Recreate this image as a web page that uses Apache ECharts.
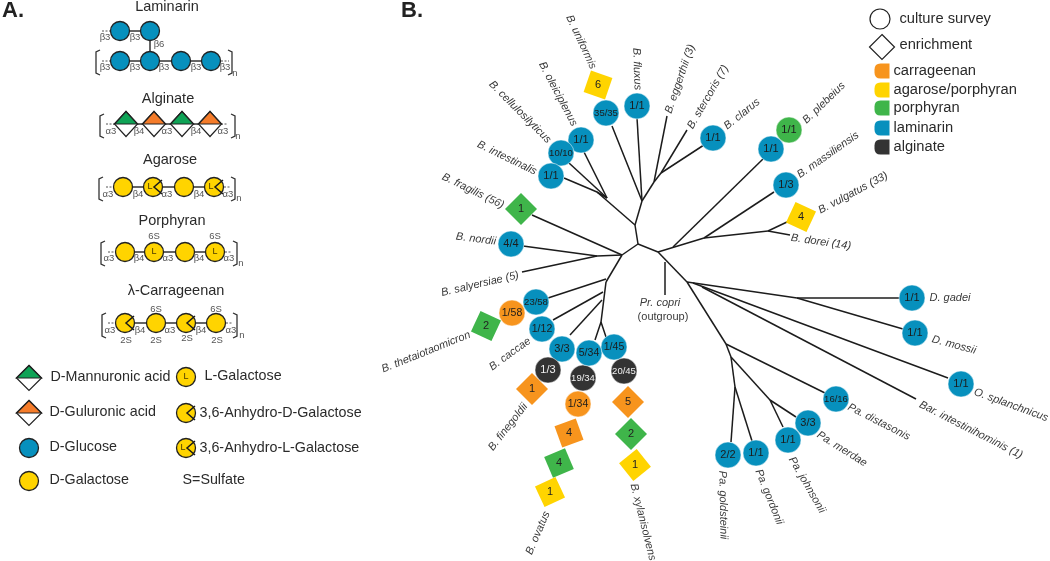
<!DOCTYPE html>
<html>
<head>
<meta charset="utf-8">
<style>
html, body { margin: 0; padding: 0; background: #fff; }
#chart { width: 1050px; height: 561px; }
</style>
<script src="https://cdn.jsdelivr.net/npm/echarts@6/dist/echarts.min.js"></script>
</head>
<body>
<div id="chart"></div>
<script>
const colors = {
  carrageenan: '#f7941d',
  agarose: '#ffd400',
  porphyran: '#3fb54a',
  laminarin: '#0790bd',
  alginate: '#333333',
  mannuronic: '#0fa356',
  guluronic: '#f57c2a'
}

// [x1, y1, x2, y2]
const branches = [
  [638, 244, 622, 255], [638, 244, 658, 252], [638, 244, 635, 225], [635, 225, 642, 201],
  [635, 225, 597, 192], [597, 192, 564, 178], [597, 192, 607, 198], [607, 198, 569, 163],
  [607, 198, 584, 152], [642, 201, 612, 126], [642, 201, 637, 118], [642, 201, 654, 182],
  [654, 182, 667, 116], [654, 182, 661, 173], [661, 173, 687, 130], [661, 173, 707, 143],
  [622, 255, 532, 215], [622, 255, 597, 256], [597, 256, 523, 246], [597, 256, 522, 272],
  [622, 255, 606, 282], [606, 282, 601, 322], [606, 279, 548, 298], [603, 292, 553, 320],
  [602, 300, 570, 335], [601, 322, 595, 340], [601, 322, 606, 337],
  [658, 252, 704, 238], [704, 238, 768, 231], [768, 231, 787, 222], [768, 231, 790, 235],
  [704, 238, 774, 192], [673, 247, 763, 159],
  [658, 252, 687, 282], [665, 262, 665, 295], [687, 282, 797, 298], [797, 298, 900, 298],
  [797, 298, 903, 329], [693, 283, 948, 378], [702, 287, 916, 399], [687, 282, 726, 344],
  [726, 344, 825, 393], [726, 344, 731, 357], [731, 357, 735, 387], [735, 387, 731, 442],
  [735, 387, 752, 441], [731, 357, 770, 400], [770, 400, 796, 417], [770, 400, 783, 427]
]

// [x, y, count, substrate, tilt]
const enrichment = [
  [598, 85, '6', 'agarose', 26], [521, 209, '1', 'porphyran', 0], [801, 217, '4', 'agarose', 20],
  [486, 326, '2', 'porphyran', 20], [532, 389, '1', 'carrageenan', 0], [569, 433, '4', 'carrageenan', -25],
  [559, 463, '4', 'porphyran', -22], [550, 492, '1', 'agarose', -20], [628, 402, '5', 'carrageenan', 0],
  [631, 434, '2', 'porphyran', 0], [635, 465, '1', 'agarose', -6]
]

// [x, y, fraction, substrate]
const survey = [
  [606, 113, '35/35', 'laminarin'], [637, 106, '1/1', 'laminarin'], [581, 140, '1/1', 'laminarin'],
  [561, 153, '10/10', 'laminarin'], [551, 176, '1/1', 'laminarin'], [511, 244, '4/4', 'laminarin'],
  [713, 138, '1/1', 'laminarin'], [789, 130, '1/1', 'porphyran'], [771, 149, '1/1', 'laminarin'],
  [786, 185, '1/3', 'laminarin'], [512, 313, '1/58', 'carrageenan'], [536, 302, '23/58', 'laminarin'],
  [542, 329, '1/12', 'laminarin'], [562, 349, '3/3', 'laminarin'], [548, 370, '1/3', 'alginate'],
  [583, 378, '19/34', 'alginate'], [589, 353, '5/34', 'laminarin'], [578, 404, '1/34', 'carrageenan'],
  [624, 371, '20/45', 'alginate'], [614, 347, '1/45', 'laminarin'], [912, 298, '1/1', 'laminarin'],
  [915, 333, '1/1', 'laminarin'], [961, 384, '1/1', 'laminarin'], [836, 399, '16/16', 'laminarin'],
  [808, 423, '3/3', 'laminarin'], [788, 440, '1/1', 'laminarin'], [756, 453, '1/1', 'laminarin'],
  [728, 455, '2/2', 'laminarin']
]

// [x, y, name, angle]
const taxa = [
  [581, 42, 'B. uniformis', -65], [637, 69, 'B. fluxus', -88], [680, 79, 'B. eggerthii (3)', 71],
  [708, 97, 'B. stercoris (7)', 60], [742, 114, 'B. clarus', 39], [824, 103, 'B. plebeius', 44],
  [828, 155, 'B. massiliensis', 35], [853, 193, 'B. vulgatus (33)', 28], [821, 242, 'B. dorei (14)', -8],
  [558, 94, 'B. oleiciplenus', -62], [520, 112, 'B. cellulosilyticus', -45], [507, 158, 'B. intestinalis', -26],
  [473, 191, 'B. fragilis (56)', -26], [476, 239, 'B. nordii', -7], [480, 284, 'B. salyersiae (5)', 13],
  [426, 352, 'B. thetaiotaomicron', 22], [510, 354, 'B. caccae', 36], [508, 427, 'B. finegoldii', 52],
  [538, 533, 'B. ovatus', 67], [643, 522, 'B. xylanisolvens', -76], [660, 303, 'Pr. copri', 0],
  [950, 298, 'D. gadei', 0], [954, 345, 'D. mossii', -15], [1011, 405, 'O. splanchnicus', -20],
  [971, 430, 'Bar. intestinihominis (1)', -27], [879, 422, 'Pa. distasonis', -27], [842, 449, 'Pa. merdae', -32],
  [807, 485, 'Pa. johnsonii', -60], [769, 497, 'Pa. gordonii', -68], [723, 505, 'Pa. goldsteinii', -89]
]

// polymer drawings: backbone segments, sugars and their annotations
const backbones = [
  [120, 31, 150, 31], [150, 31, 150, 61], [120, 61, 211, 61],
  [126, 124, 210, 124], [123, 187, 214, 187], [125, 252, 215, 252], [125, 323, 216, 323]
]
const stubs = [
  [102, 31, 110, 31], [102, 61, 110, 61], [221, 61, 229, 61], [106, 124, 114, 124], [221, 124, 228, 124],
  [106, 187, 113, 187], [224, 187, 231, 187], [108, 252, 115, 252], [225, 252, 232, 252],
  [108, 323, 115, 323], [226, 323, 233, 323]
]
const glucose = [[120, 31], [150, 31], [120, 61], [150, 61], [181, 61], [211, 61], [29, 448]]
const galactose = [
  [123, 187], [153, 187], [184, 187], [214, 187], [125, 252], [154, 252], [185, 252], [215, 252],
  [125, 323], [156, 323], [186, 323], [216, 323], [29, 481], [186, 377], [186, 413], [186, 448]
]
const lGalactose = [[154, 252], [215, 252], [186, 377]]
const anhydroL = [[153, 187], [214, 187], [186, 448]]
const anhydroD = [[125, 323], [186, 323], [186, 413]]
// [x, y, top colour, width, height]
const uronic = [
  [126, 124, 'mannuronic', 23, 25], [154, 124, 'guluronic', 23, 25], [182, 124, 'mannuronic', 23, 25],
  [210, 124, 'guluronic', 23, 25], [29, 378, 'mannuronic', 25, 25], [29, 413, 'guluronic', 25, 25]
]
// [x left, x right, y top, y bottom]
const brackets = [
  [96, 232, 50, 75], [100, 235, 114, 138], [99, 235, 177, 201], [101, 237, 241, 266], [102, 237, 313, 338]
]
const linkages = [
  [105, 37, 'β3'], [135, 37, 'β3'], [159, 44, 'β6'], [105, 67, 'β3'], [135, 67, 'β3'], [164, 67, 'β3'],
  [196, 67, 'β3'], [225, 67, 'β3'],
  [111, 131, 'α3'], [139, 131, 'β4'], [167, 131, 'α3'], [196, 131, 'β4'], [223, 131, 'α3'],
  [108, 194, 'α3'], [138, 194, 'β4'], [167, 194, 'α3'], [199, 194, 'β4'], [228, 194, 'α3'],
  [109, 258, 'α3'], [139, 258, 'β4'], [168, 258, 'α3'], [199, 258, 'β4'], [229, 258, 'α3'],
  [110, 330, 'α3'], [140, 330, 'β4'], [170, 330, 'α3'], [201, 330, 'β4'], [231, 330, 'α3'],
  [154, 236, '6S'], [215, 236, '6S'], [156, 309, '6S'], [216, 309, '6S'],
  [126, 340, '2S'], [156, 340, '2S'], [187, 338, '2S'], [217, 340, '2S'],
  [235, 73, 'n'], [238, 136, 'n'], [239, 198, 'n'], [241, 263, 'n'], [242, 335, 'n']
]
const polymerTitles = [
  [167, 7, 'Laminarin'], [168, 99, 'Alginate'], [170, 160, 'Agarose'], [172, 221, 'Porphyran'], [176, 291, 'λ-Carrageenan']
]
const sugarNames = [
  [50, 377, 'D-Mannuronic acid'], [49, 412, 'D-Guluronic acid'], [49, 447, 'D-Glucose'], [49, 480, 'D-Galactose'],
  [204, 376, 'L-Galactose'], [199, 413, '3,6-Anhydro-D-Galactose'], [199, 448, '3,6-Anhydro-L-Galactose'], [182, 480, 'S=Sulfate']
]
const substrateKey = [
  [882, 71, 'carrageenan', 'carrageenan'], [882, 90, 'agarose', 'agarose/porphyran'], [882, 108, 'porphyran', 'porphyran'],
  [882, 128, 'laminarin', 'laminarin'], [882, 147, 'alginate', 'alginate']
]
const markKey = [[899, 19, 'culture survey'], [899, 45, 'enrichment']]
const panelLetters = [[13, 11, 'A.'], [412, 11, 'B.']]

const FONT = '"Liberation Sans", Arial, sans-serif'
const INK = '#222222'

const segs = rows => rows.map(r => ({ coords: [[r[0], r[1]], [r[2], r[3]]] }))

const lineSeries = (data, z, extra) => ({
  type: 'lines',
  coordinateSystem: 'cartesian2d',
  polyline: true,
  silent: true,
  z: z,
  data: data,
  lineStyle: Object.assign({ color: INK, width: 1.4, opacity: 1 }, extra)
})

// a text sits on an invisible point so it still goes through the axes
const textSeries = (rows, label, z) => ({
  type: 'scatter',
  silent: true,
  z: z || 6,
  symbolSize: 1,
  itemStyle: { color: 'rgba(0,0,0,0)', opacity: 1 },
  data: rows.map(r => ({
    value: [r[0], r[1]],
    label: { formatter: r[2], rotate: r[3] || 0 }
  })),
  label: Object.assign({
    show: true,
    position: 'inside',
    fontFamily: FONT,
    color: '#333',
    fontSize: 14
  }, label)
})

const leftText = { position: 'right', distance: 0, align: 'left' }

const bracketLines = []
brackets.forEach(b => {
  bracketLines.push({ coords: [[b[0] + 4, b[2]], [b[0], b[2] + 2], [b[0], b[3] - 2], [b[0] + 4, b[3]]] })
  bracketLines.push({ coords: [[b[1] - 4, b[2]], [b[1], b[2] + 2], [b[1], b[3] - 2], [b[1] - 4, b[3]]] })
})

const chevrons = anhydroD.concat(anhydroL).map(c => ({
  coords: [[c[0] + 9, c[1] - 7], [c[0] + 1, c[1]], [c[0] + 9, c[1] + 7]]
}))

const sugarDots = (rows, color, size) => ({
  type: 'scatter',
  silent: true,
  z: 3,
  symbol: 'circle',
  symbolSize: size,
  itemStyle: { color: color, borderColor: INK, borderWidth: 1.3, opacity: 1 },
  data: rows
})

const fractionFont = text => (text.length >= 5 ? 9.5 : text.length === 4 ? 10.5 : 11)

const option = {
  animation: false,
  backgroundColor: '#fff',
  grid: { left: 0, right: 0, top: 0, bottom: 0 },
  xAxis: { type: 'value', min: 0, max: 1050, show: false },
  yAxis: { type: 'value', min: 0, max: 561, inverse: true, show: false },
  series: [
    // panel B tree
    lineSeries(segs(branches), 1, { color: '#1c1c1c', width: 1.5 }),
    {
      type: 'scatter',
      silent: true,
      z: 3,
      symbol: 'diamond',
      symbolSize: 32,
      data: enrichment.map(d => ({
        value: [d[0], d[1]],
        symbolRotate: d[4],
        itemStyle: { color: colors[d[3]], opacity: 1 },
        label: { formatter: d[2] }
      })),
      label: { show: true, position: 'inside', fontFamily: FONT, fontSize: 11, color: '#222' }
    },
    {
      type: 'scatter',
      silent: true,
      z: 4,
      symbol: 'circle',
      symbolSize: 26,
      data: survey.map(d => ({
        value: [d[0], d[1]],
        itemStyle: { color: colors[d[3]], opacity: 1, borderColor: 'rgba(255,255,255,0.5)', borderWidth: 1 },
        label: {
          formatter: d[2],
          color: d[3] === 'alginate' ? '#f2f2f2' : '#1c1c1c',
          fontSize: fractionFont(d[2])
        }
      })),
      label: { show: true, position: 'inside', fontFamily: FONT }
    },
    textSeries(taxa, { fontStyle: 'italic', fontSize: 11, color: '#3a3a3a' }),
    textSeries([[663, 317, '(outgroup)']], { fontSize: 11, color: '#3a3a3a' }),

    // panel A polymers
    lineSeries(segs(backbones), 1, { width: 1.5, color: '#333' }),
    lineSeries(segs(stubs), 1, { width: 1, color: '#555', type: [2, 1.5] }),
    lineSeries(bracketLines, 1, { width: 1.3, color: '#333' }),
    sugarDots(glucose, colors.laminarin, 19),
    sugarDots(galactose, colors.agarose, 19),
    {
      type: 'scatter',
      silent: true,
      z: 3,
      symbol: 'diamond',
      itemStyle: { color: '#fff', borderColor: INK, borderWidth: 1.2, opacity: 1 },
      data: uronic.map(d => ({ value: [d[0], d[1]], symbolSize: [d[3], d[4]] }))
    },
    {
      type: 'scatter',
      silent: true,
      z: 4,
      symbol: 'path://M0,10L10,0L20,10Z',
      symbolKeepAspect: false,
      data: uronic.map(d => ({
        value: [d[0], d[1]],
        symbolSize: [d[3], d[4] / 2],
        symbolOffset: [0, '-50%'],
        itemStyle: { color: colors[d[2]], borderColor: INK, borderWidth: 1.2, opacity: 1 }
      }))
    },
    lineSeries(chevrons, 5, { width: 1.5, color: '#1a1a1a' }),
    textSeries(lGalactose.map(c => [c[0], c[1], 'L']), { fontSize: 9, color: '#4a3a00' }),
    textSeries(anhydroL.map(c => [c[0] - 3, c[1], 'L']), { fontSize: 9, color: '#4a3a00' }),
    textSeries(linkages, { fontSize: 9.5, color: '#555' }),
    textSeries(polymerTitles, { fontSize: 14.5, color: '#2a2a2a' }),
    textSeries(sugarNames, Object.assign({ fontSize: 14.3, color: '#2a2a2a' }, leftText)),

    // panel B key
    {
      type: 'scatter',
      silent: true,
      z: 3,
      symbol: 'circle',
      symbolSize: 20,
      itemStyle: { color: '#fff', borderColor: INK, borderWidth: 1.2, opacity: 1 },
      data: [[880, 19]]
    },
    {
      type: 'scatter',
      silent: true,
      z: 3,
      symbol: 'diamond',
      symbolSize: 25,
      itemStyle: { color: '#fff', borderColor: INK, borderWidth: 1.2, opacity: 1 },
      data: [[882, 47]]
    },
    {
      type: 'scatter',
      silent: true,
      z: 3,
      symbol: 'path://M6,0L15,0L15,15L6,15Q0,15,0,9L0,6Q0,0,6,0Z',
      symbolSize: 15,
      data: substrateKey.map(k => ({ value: [k[0], k[1]], itemStyle: { color: colors[k[2]], opacity: 1 } }))
    },
    textSeries(substrateKey.map(k => [893, k[1], k[3]]), Object.assign({ fontSize: 14.7, color: '#2a2a2a' }, leftText)),
    textSeries(markKey, Object.assign({ fontSize: 14.7, color: '#2a2a2a' }, leftText)),
    textSeries(panelLetters, { fontSize: 22, fontWeight: 'bold', color: '#222' })
  ]
}

const chart = echarts.init(document.getElementById('chart'), null, { renderer: 'canvas' })
chart.setOption(option)
</script>
</body>
</html>
